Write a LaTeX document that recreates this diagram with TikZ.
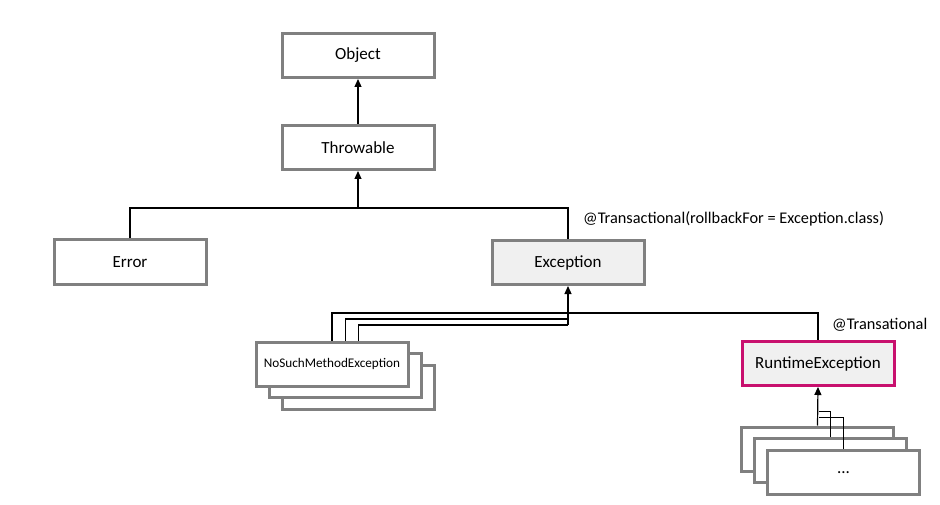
\documentclass[tikz,border=0pt]{standalone}
\usepackage{fontspec}
\setmainfont{Carlito}
\usetikzlibrary{arrows.meta, positioning, calc}
\definecolor{boxgray}{HTML}{808080}
\definecolor{boxfill}{HTML}{F0F0F0}
\definecolor{rtepink}{HTML}{C8106E}

\begin{document}
\begin{tikzpicture}[x=1pt, y=-1pt,
    classbox/.style={draw=boxgray, line width=3pt, fill=white,
        minimum width=152pt, minimum height=44pt, inner sep=0pt,
        font=\fontsize{17}{20}\selectfont},
    basebox/.style={classbox, fill=boxfill},
    smallbox/.style={classbox, font=\fontsize{13.2}{15}\selectfont},
    link/.style={draw=black, line width=1.2pt},
    arrowlink/.style={link, -{Triangle[length=8pt, width=7pt]}},
    note/.style={font=\fontsize{16.3}{18}\selectfont, inner sep=0pt}]
    \useasboundingbox (0, 0) rectangle (940, 505);
    % top of the hierarchy
    \node[classbox] (obj) at (358, 55.5) {Object};
    \node[classbox] (thr) at (358, 147.5) {Throwable};
    \node[classbox] (err) at (130, 262) {Error};
    \node[basebox] (exc) at (568, 262.5) {Exception};
    \node[note, anchor=west] (excnote) at (583, 219)
        {@Transactional(rollbackFor = Exception.class)};
    \draw[arrowlink] (thr.north) -- (obj.south);
    \coordinate (thrbus) at (358, 208);
    \draw[link] (err.north) |- (thrbus) -| (exc.north);
    \draw[arrowlink] (thrbus) -- (thr.south);
    % checked exceptions, stacked
    \node[smallbox] (nsmc) at (358.5, 387) {};
    \node[smallbox] (nsmb) at (345.5, 375) {};
    \node[smallbox] (nsma) at (332, 364) {NoSuchMethodException};
    % unchecked exceptions
    \node[basebox, draw=rtepink] (rte) at (818, 363.5) {RuntimeException};
    \node[note, anchor=west] (rtenote) at (832, 325) {@Transational};
    \coordinate (excbusa) at (568, 313);
    \coordinate (excbusb) at (568, 319);
    \coordinate (excbusc) at (568, 325);
    \draw[link] (nsma.north) |- (excbusa) -| (rte.north);
    \draw[link] (nsmb.north |- nsma.north) |- (excbusb);
    \draw[link] (nsmc.north |- nsma.north) |- (excbusc);
    \draw[arrowlink] (excbusc) -- (exc.south);
    \node[classbox] (dotsa) at (817.5, 449) {};
    \node[classbox] (dotsb) at (830.5, 460.5) {};
    \node[classbox] (dotsc) at (843.5, 472.5) {...};
    \coordinate (rtebusb) at (819, 411.7);
    \coordinate (rtebusc) at (819, 417.7);
    \draw[link] (dotsb.north) |- (rtebusb);
    \draw[link] (dotsc.north) |- (rtebusc);
    \draw[arrowlink] (dotsa.north) -- (rte.south);
\end{tikzpicture}
\end{document}
